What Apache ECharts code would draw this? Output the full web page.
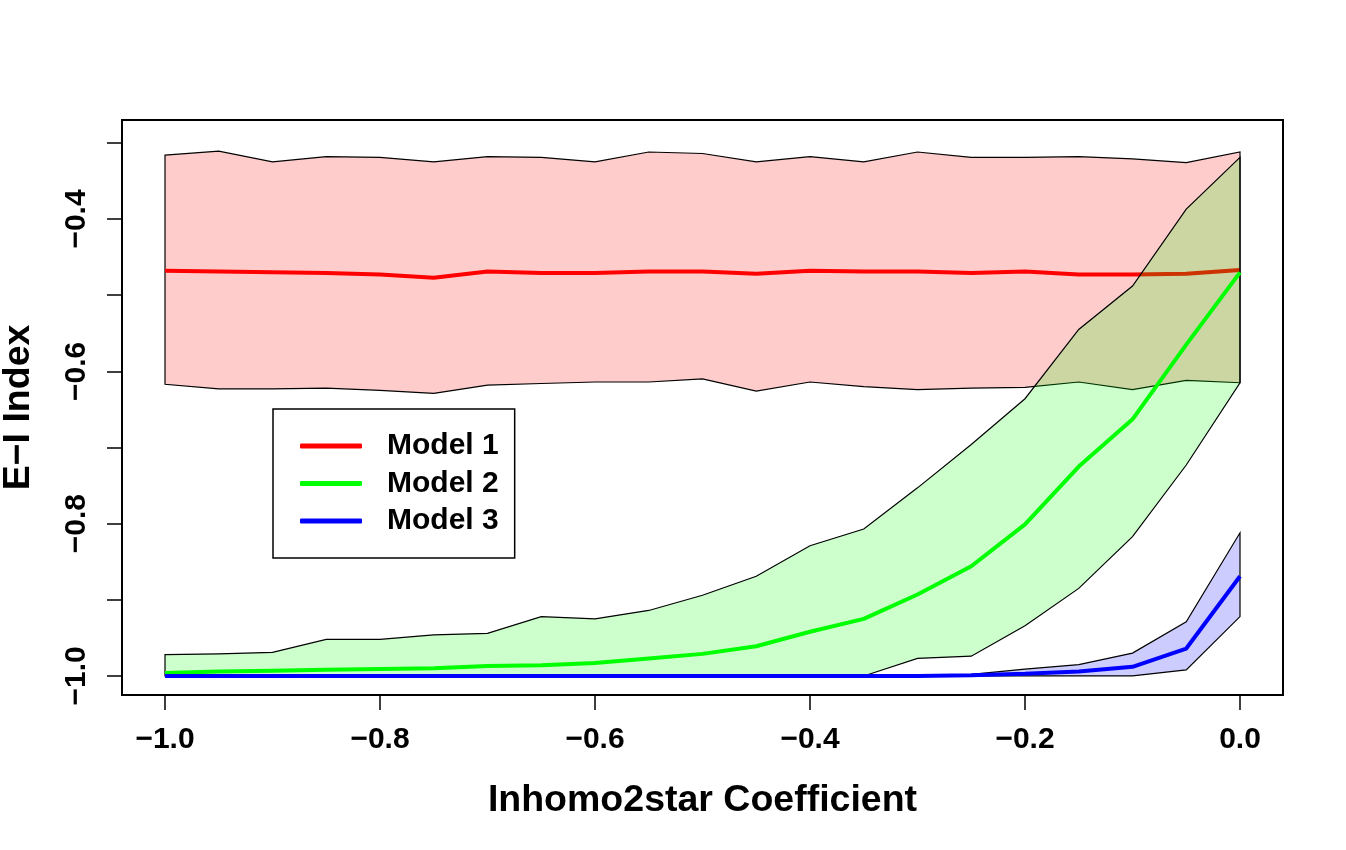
<!DOCTYPE html>
<html>
<head>
<meta charset="utf-8">
<script src="https://cdn.jsdelivr.net/npm/echarts@6/dist/echarts.min.js"></script>
<style>
  html, body { margin: 0; padding: 0; background: #fff; }
  #main { width: 1346px; height: 850px; }
</style>
</head>
<body>
<div id="main"></div>
<script>
const FONT = '"Liberation Sans", Arial, Helvetica, sans-serif';

const coef = [-1.0, -0.95, -0.9, -0.85, -0.8, -0.75, -0.7, -0.65, -0.6, -0.55, -0.5,
  -0.45, -0.4, -0.35, -0.3, -0.25, -0.2, -0.15, -0.1, -0.05, 0.0];

const m1Mean = [-0.468, -0.469, -0.470, -0.471, -0.473, -0.477, -0.469, -0.471, -0.471, -0.469, -0.469,
  -0.472, -0.468, -0.469, -0.469, -0.471, -0.469, -0.473, -0.473, -0.472, -0.467];
const m1Hi = [-0.316, -0.311, -0.325, -0.318, -0.319, -0.325, -0.318, -0.319, -0.325, -0.312, -0.314,
  -0.325, -0.318, -0.325, -0.312, -0.319, -0.319, -0.318, -0.321, -0.326, -0.312];
const m1Lo = [-0.617, -0.623, -0.623, -0.622, -0.625, -0.629, -0.618, -0.616, -0.614, -0.614, -0.610,
  -0.626, -0.614, -0.620, -0.624, -0.622, -0.621, -0.614, -0.624, -0.612, -0.615];

const m2Mean = [-0.996, -0.994, -0.993, -0.992, -0.991, -0.990, -0.987, -0.986, -0.983, -0.977, -0.971,
  -0.961, -0.942, -0.925, -0.893, -0.856, -0.801, -0.725, -0.663, -0.565, -0.470];
const m2Hi = [-0.972, -0.971, -0.969, -0.952, -0.952, -0.946, -0.944, -0.922, -0.925, -0.914, -0.894,
  -0.869, -0.829, -0.807, -0.753, -0.696, -0.636, -0.545, -0.488, -0.387, -0.319];
const m2Lo = [-1.0, -1.0, -1.0, -1.0, -1.0, -1.0, -1.0, -1.0, -1.0, -1.0, -1.0,
  -1.0, -1.0, -1.0, -0.977, -0.974, -0.934, -0.885, -0.817, -0.723, -0.615];

const m3Mean = [-1.0, -1.0, -1.0, -1.0, -1.0, -1.0, -1.0, -1.0, -1.0, -1.0, -1.0,
  -1.0, -1.0, -1.0, -1.0, -0.999, -0.997, -0.994, -0.988, -0.964, -0.869];
const m3Hi = [-1.0, -1.0, -1.0, -1.0, -1.0, -1.0, -1.0, -1.0, -1.0, -1.0, -1.0,
  -1.0, -1.0, -1.0, -1.0, -0.998, -0.991, -0.985, -0.970, -0.929, -0.812];
const m3Lo = [-1.0, -1.0, -1.0, -1.0, -1.0, -1.0, -1.0, -1.0, -1.0, -1.0, -1.0,
  -1.0, -1.0, -1.0, -1.0, -1.0, -1.0, -1.0, -1.0, -0.992, -0.922];

const xTicks = [-1.0, -0.8, -0.6, -0.4, -0.2, 0.0];
const yTicks = [-1.0, -0.9, -0.8, -0.7, -0.6, -0.5, -0.4, -0.3];
const yLabels = [-1.0, -0.8, -0.6, -0.4];

const models = ['Model 1', 'Model 2', 'Model 3'];
const colors = ['#ff0000', '#00ff00', '#0000ff'];
const fills = ['rgba(255,0,0,0.2)', 'rgba(0,255,0,0.2)', 'rgba(0,0,255,0.2)'];
const means = [m1Mean, m2Mean, m3Mean];
const his = [m1Hi, m2Hi, m3Hi];
const los = [m1Lo, m2Lo, m3Lo];

function fmt(v) {
  const s = Math.abs(v).toFixed(1);
  return v < -1e-9 ? '\u2212' + s : s;
}

// band polygon: upper edge left to right, lower edge back
function bandSeries(k) {
  const rows = coef.map((x, i) => [x, los[k][i], his[k][i]]);
  return {
    type: 'custom',
    name: models[k] + ' band',
    z: 2 * k + 1,
    data: rows,
    renderItem: function (params, api) {
      if (params.dataIndex !== 0) return null;
      const pts = [];
      rows.forEach(r => pts.push(api.coord([r[0], r[2]])));
      for (let i = rows.length - 1; i >= 0; i--) pts.push(api.coord([rows[i][0], rows[i][1]]));
      return {
        type: 'polygon',
        shape: { points: pts },
        style: { fill: fills[k], stroke: '#000', lineWidth: 1.2 }
      };
    }
  };
}

function lineSeries(k) {
  return {
    type: 'line',
    name: models[k],
    z: 2 * k + 2,
    data: coef.map((x, i) => [x, means[k][i]]),
    symbol: 'none',
    lineStyle: { color: colors[k], width: 4 },
    itemStyle: { color: colors[k] },
    animation: false
  };
}

const series = [];
for (let k = 0; k < 3; k++) {
  series.push(bandSeries(k));
  series.push(lineSeries(k));
}

const chart = echarts.init(document.getElementById('main'), null, { renderer: 'canvas' });
chart.setOption({
  backgroundColor: '#fff',
  animation: false,
  grid: {
    left: 122, top: 120, width: 1161, height: 575,
    containLabel: false, outerBoundsMode: 'none',
    show: true, borderColor: '#000', borderWidth: 2, backgroundColor: 'transparent'
  },
  legend: {
    data: models.map((m, k) => ({ name: m, icon: 'roundRect', itemStyle: { color: colors[k] } })),
    orient: 'vertical',
    left: 273, top: 409,
    padding: [22, 16, 22, 27],
    itemGap: 7.5,
    itemWidth: 62, itemHeight: 5,
    borderColor: '#000', borderWidth: 1.5,
    backgroundColor: '#fff',
    selectedMode: false,
    textStyle: {
      fontFamily: FONT, fontSize: 30, fontWeight: 'bold', color: '#000',
      padding: [0, 0, 0, 20]
    }
  },
  xAxis: {
    type: 'value',
    min: -1.04, max: 0.04,
    name: 'Inhomo2star Coefficient',
    nameLocation: 'middle',
    nameGap: 87,
    nameTextStyle: { fontFamily: FONT, fontSize: 37.5, fontWeight: 'bold', color: '#000' },
    axisLine: { show: false, onZero: false },
    splitLine: { show: false },
    axisTick: { show: true, customValues: xTicks, length: 15, lineStyle: { color: '#000', width: 1.5 } },
    axisLabel: {
      customValues: xTicks, formatter: fmt, margin: 30,
      fontFamily: FONT, fontSize: 30, fontWeight: 'bold', color: '#000'
    }
  },
  yAxis: {
    type: 'value',
    min: -1.025, max: -0.27,
    name: 'E\u2212I Index',
    nameLocation: 'middle',
    nameGap: 84,
    nameRotate: 90,
    nameTextStyle: { fontFamily: FONT, fontSize: 37.5, fontWeight: 'bold', color: '#000' },
    axisLine: { show: false, onZero: false },
    splitLine: { show: false },
    axisTick: { show: true, customValues: yTicks, length: 15, lineStyle: { color: '#000', width: 1.5 } },
    axisLabel: {
      customValues: yLabels, formatter: fmt, rotate: 90, margin: 30,
      fontFamily: FONT, fontSize: 30, fontWeight: 'bold', color: '#000'
    }
  },
  series: series
});
</script>
</body>
</html>
